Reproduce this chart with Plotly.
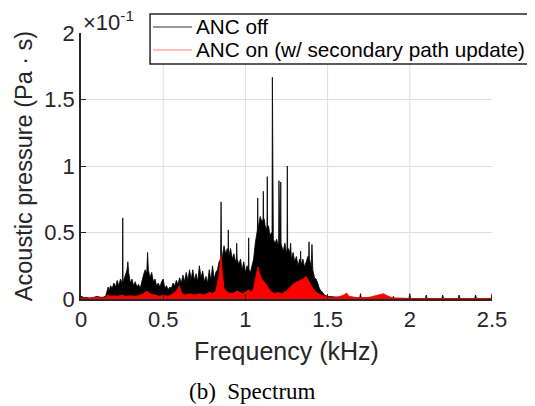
import plotly.graph_objects as go

# Frequencies in kHz, amplitudes in units of 1e-1 Pa*s
off_freq = [0.00, 0.01, 0.02, 0.03, 0.05, 0.07, 0.09, 0.10, 0.11, 0.13, 0.15, 0.16, 0.165, 0.17, 0.18, 0.19,
            0.20, 0.21, 0.22, 0.23, 0.24, 0.25, 0.252, 0.254, 0.256, 0.26, 0.27, 0.28, 0.285, 0.29, 0.30,
            0.31, 0.32, 0.33, 0.34, 0.35, 0.36, 0.37, 0.38, 0.39, 0.40, 0.405, 0.41, 0.42, 0.43, 0.44,
            0.45, 0.46, 0.47, 0.48, 0.49, 0.50, 0.51, 0.52, 0.53, 0.54, 0.55, 0.56, 0.57, 0.58, 0.59,
            0.60, 0.61, 0.62, 0.63, 0.64, 0.65, 0.66, 0.67, 0.68, 0.69, 0.70, 0.71, 0.72, 0.73, 0.74,
            0.75, 0.76, 0.77, 0.78, 0.79, 0.80, 0.81, 0.82, 0.83, 0.84, 0.849, 0.852, 0.855, 0.86, 0.87,
            0.88, 0.89, 0.894, 0.896, 0.898, 0.90, 0.91, 0.92, 0.93, 0.94, 0.945, 0.947, 0.949, 0.95,
            0.96, 0.97, 0.98, 0.99, 1.00, 1.01, 1.018, 1.02, 1.022, 1.03, 1.04, 1.05, 1.06, 1.07, 1.073,
            1.075, 1.077, 1.08, 1.09, 1.10, 1.107, 1.109, 1.111, 1.115, 1.12, 1.13, 1.131, 1.133, 1.135,
            1.14, 1.15, 1.16, 1.162, 1.164, 1.166, 1.17, 1.18, 1.19, 1.20, 1.202, 1.204, 1.206, 1.21,
            1.213, 1.215, 1.217, 1.22, 1.23, 1.24, 1.25, 1.253, 1.255, 1.257, 1.26, 1.27, 1.275, 1.28, 1.29,
            1.30, 1.31, 1.32, 1.33, 1.334, 1.336, 1.338, 1.34, 1.35, 1.36, 1.37, 1.38, 1.385, 1.387,
            1.389, 1.39, 1.40, 1.405, 1.41, 1.42, 1.43, 1.44, 1.45, 1.46, 1.47, 1.48, 1.50, 1.55, 1.59, 1.60,
            1.61, 1.65, 1.695, 1.70, 1.705, 1.75, 1.80, 1.84, 1.895, 1.90, 1.905, 1.995, 2.00, 2.005,
            2.095, 2.10, 2.105, 2.195, 2.20, 2.205, 2.295, 2.30, 2.305, 2.395, 2.40, 2.405, 2.495, 2.50]
off_amp = [0.02, 0.015, 0.01, 0.012, 0.008, 0.01, 0.015, 0.02, 0.015, 0.012, 0.02, 0.06, 0.09, 0.06, 0.10, 0.08,
           0.12, 0.09, 0.14, 0.10, 0.15, 0.12, 0.13, 0.61, 0.13, 0.14, 0.18, 0.22, 0.28, 0.20, 0.12,
           0.15, 0.10, 0.13, 0.09, 0.11, 0.08, 0.14, 0.18, 0.22, 0.20, 0.35, 0.22, 0.16, 0.20, 0.13,
           0.15, 0.10, 0.12, 0.09, 0.13, 0.15, 0.08, 0.10, 0.07, 0.09, 0.08, 0.12, 0.10, 0.14, 0.11,
           0.16, 0.12, 0.18, 0.13, 0.20, 0.14, 0.22, 0.15, 0.22, 0.14, 0.19, 0.13, 0.25, 0.16, 0.21,
           0.13, 0.17, 0.12, 0.22, 0.14, 0.25, 0.15, 0.20, 0.22, 0.28, 0.30, 0.73, 0.30, 0.32, 0.40,
           0.34, 0.38, 0.34, 0.52, 0.34, 0.33, 0.38, 0.30, 0.34, 0.28, 0.30, 0.42, 0.30, 0.30,
           0.26, 0.30, 0.22, 0.28, 0.20, 0.25, 0.22, 0.46, 0.22, 0.20, 0.26, 0.30, 0.42, 0.50, 0.52,
           0.76, 0.52, 0.55, 0.62, 0.58, 0.60, 0.81, 0.60, 0.60, 0.55, 0.52, 0.55, 0.92, 0.55,
           0.55, 0.48, 0.50, 0.48, 1.667, 0.48, 0.45, 0.42, 0.45, 0.40, 0.42, 0.89, 0.42, 0.42,
           0.42, 0.88, 0.42, 0.40, 0.36, 0.42, 0.35, 0.36, 1.00, 0.36, 0.38, 0.35, 0.42, 0.30, 0.35,
           0.28, 0.32, 0.25, 0.30, 0.28, 0.36, 0.28, 0.26, 0.30, 0.24, 0.28, 0.32, 0.30, 0.43,
           0.30, 0.30, 0.24, 0.41, 0.22, 0.16, 0.15, 0.12, 0.08, 0.06, 0.05, 0.03, 0.02, 0.015, 0.012, 0.03,
           0.015, 0.012, 0.008, 0.04, 0.008, 0.01, 0.01, 0.02, 0.005, 0.02, 0.005, 0.004, 0.04, 0.004,
           0.004, 0.03, 0.004, 0.004, 0.03, 0.004, 0.004, 0.03, 0.004, 0.004, 0.03, 0.004, 0.004, 0.04]

on_freq = [0.00, 0.02, 0.05, 0.08, 0.10, 0.12, 0.15, 0.16, 0.18, 0.20, 0.22, 0.25, 0.27, 0.30, 0.33, 0.36,
           0.38, 0.40, 0.42, 0.45, 0.48, 0.50, 0.53, 0.56, 0.58, 0.60, 0.61, 0.63, 0.66, 0.69, 0.72,
           0.75, 0.78, 0.80, 0.82, 0.84, 0.85, 0.86, 0.87, 0.89, 0.92, 0.95, 0.98, 1.00, 1.02, 1.04,
           1.05, 1.06, 1.07, 1.077, 1.09, 1.10, 1.12, 1.14, 1.16, 1.18, 1.20, 1.22, 1.25, 1.28, 1.30,
           1.33, 1.35, 1.37, 1.39, 1.41, 1.43, 1.46, 1.50, 1.55, 1.60, 1.615, 1.63, 1.68, 1.75, 1.80,
           1.84, 1.87, 1.90, 2.00, 2.50]
on_amp = [0.01, 0.005, 0.005, 0.01, 0.015, 0.008, 0.01, 0.03, 0.02, 0.025, 0.02, 0.03, 0.02, 0.025, 0.02, 0.03,
          0.04, 0.06, 0.04, 0.03, 0.02, 0.03, 0.02, 0.04, 0.06, 0.10, 0.05, 0.03, 0.04, 0.03, 0.04,
          0.03, 0.05, 0.04, 0.06, 0.18, 0.33, 0.20, 0.08, 0.05, 0.04, 0.06, 0.04, 0.05, 0.07, 0.05,
          0.08, 0.15, 0.20, 0.24, 0.18, 0.15, 0.12, 0.08, 0.05, 0.04, 0.05, 0.04, 0.06, 0.10, 0.12,
          0.14, 0.15, 0.17, 0.12, 0.08, 0.05, 0.03, 0.015, 0.01, 0.03, 0.045, 0.02, 0.01, 0.012, 0.025,
          0.04, 0.02, 0.008, 0.004, 0.004]

series_names = ["ANC off", "ANC on (w/ secondary path update)"]
series_colors = ["black", "red"]
legend_line_colors = ["#333333", "#ff8080"]

x_ticks = [0, 0.5, 1, 1.5, 2, 2.5]
x_tick_labels = ["0", "0.5", "1", "1.5", "2", "2.5"]
y_ticks = [0, 0.5, 1, 1.5, 2]
y_tick_labels = ["0", "0.5", "1", "1.5", "2"]

SANS = "Liberation Sans, Arial, sans-serif"
GRID = "#dedede"
AX = "#262626"

fig = go.Figure()
fig.add_trace(go.Scatter(x=off_freq, y=off_amp, mode="lines", name=series_names[0], showlegend=False,
                         line=dict(color=series_colors[0], width=0.8), fill="tozeroy",
                         fillcolor=series_colors[0]))
fig.add_trace(go.Scatter(x=on_freq, y=on_amp, mode="lines", name=series_names[1], showlegend=False,
                         line=dict(color=series_colors[1], width=0.8), fill="tozeroy",
                         fillcolor=series_colors[1]))

# vertical grid lines (none at the right limit, like the reference)
for xv in x_ticks[1:-1]:
    fig.add_shape(type="line", xref="x", yref="paper", x0=xv, x1=xv, y0=0, y1=1,
                  line=dict(color=GRID, width=1), layer="below")

# legend box (drawn as layout items so its size can match the reference)
fig.add_shape(type="rect", xref="paper", yref="paper", x0=0.168, x1=1.0876, y0=0.8835, y1=1.0714,
              line=dict(color=AX, width=1.5), fillcolor="white", layer="above")
legend_rows_y = [1.0226, 0.9361]
for name, col, ly in zip(series_names, legend_line_colors, legend_rows_y):
    fig.add_shape(type="line", xref="paper", yref="paper", x0=0.1752, x1=0.2701, y0=ly, y1=ly,
                  line=dict(color=col, width=1.2), layer="above")
    fig.add_annotation(x=0.2774, y=ly, xref="paper", yref="paper", xanchor="left", yanchor="middle",
                       text=name, showarrow=False, borderpad=0,
                       font=dict(family=SANS, size=20.7, color="black"))

# Page body has an 8px margin, so the figure is 8px smaller than the window
fig.update_layout(
    width=527, height=398,
    margin=dict(l=73, r=43, t=25, b=107, autoexpand=False),
    paper_bgcolor="white", plot_bgcolor="white",
    font=dict(family=SANS, size=22, color=AX),
    showlegend=False,
    xaxis=dict(range=[0, 2.5], tickvals=x_ticks, ticktext=x_tick_labels,
               showgrid=False,
               showline=True, linecolor=AX, linewidth=1.5,
               ticks="inside", ticklen=5, tickcolor=AX,
               tickfont=dict(size=22),
               zeroline=False, title=dict(text="Frequency (kHz)", standoff=11,
                                          font=dict(size=25))),
    yaxis=dict(range=[0, 2], tickvals=y_ticks, ticktext=y_tick_labels,
               showgrid=True, gridcolor=GRID, gridwidth=1,
               showline=True, linecolor=AX, linewidth=1.5,
               ticks="inside", ticklen=5, tickcolor=AX,
               tickfont=dict(size=22),
               zeroline=False, title=dict(text="Acoustic pressure (Pa · s)", standoff=5,
                                          font=dict(size=23.5))),
)
fig.add_annotation(x=0, y=0.985, xref="paper", yref="paper", xanchor="left", yanchor="bottom",
                   text="×10<sup>-1</sup>", showarrow=False,
                   font=dict(family=SANS, size=22, color=AX))
fig.add_annotation(x=0.418, y=-0.346, xref="paper", yref="paper", xanchor="center", yanchor="middle",
                   text="(b)  Spectrum", showarrow=False,
                   font=dict(family="Liberation Serif, Times New Roman, serif", size=23, color="black"))

fig.write_html("out.html")
